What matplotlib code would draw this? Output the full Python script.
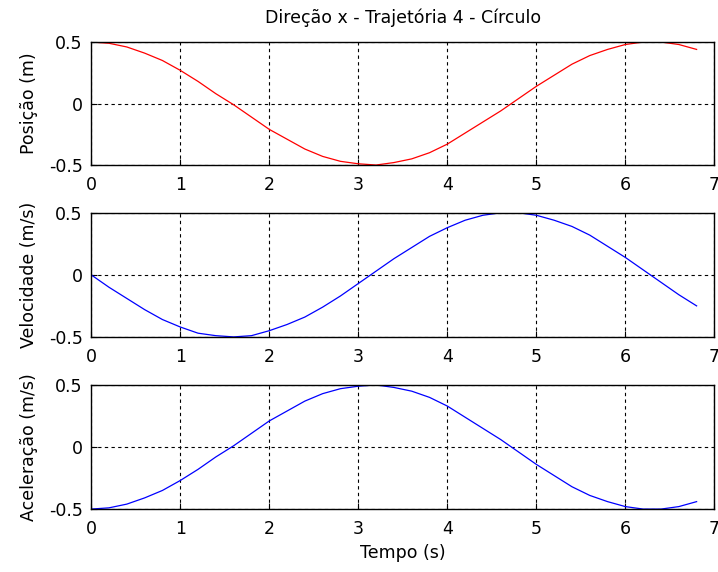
import matplotlib
matplotlib.use("Agg")
import matplotlib.pyplot as plt

plt.rcParams['font.family'] = ['DejaVu Sans']
plt.rcParams['font.size'] = 12.5

# amostras de tempo (s)
tempo = [0.0, 0.2, 0.4, 0.6, 0.8, 1.0, 1.2, 1.4, 1.6, 1.8, 2.0, 2.2, 2.4, 2.6,
         2.8, 3.0, 3.2, 3.4, 3.6, 3.8, 4.0, 4.2, 4.4, 4.6, 4.8, 5.0, 5.2, 5.4,
         5.6, 5.8, 6.0, 6.2, 6.4, 6.6, 6.8]

posicao = [0.50, 0.49, 0.46, 0.41, 0.35, 0.27, 0.18, 0.08, -0.01, -0.11, -0.21,
           -0.29, -0.37, -0.43, -0.47, -0.49, -0.50, -0.48, -0.45, -0.40, -0.33,
           -0.24, -0.15, -0.06, 0.04, 0.14, 0.23, 0.32, 0.39, 0.44, 0.48, 0.50,
           0.50, 0.48, 0.44]

velocidade = [0.00, -0.10, -0.19, -0.28, -0.36, -0.42, -0.47, -0.49, -0.50, -0.49,
              -0.45, -0.40, -0.34, -0.26, -0.17, -0.07, 0.03, 0.13, 0.22, 0.31,
              0.38, 0.44, 0.48, 0.50, 0.50, 0.48, 0.44, 0.39, 0.32, 0.23, 0.14,
              0.04, -0.06, -0.16, -0.25]

aceleracao = [-0.50, -0.49, -0.46, -0.41, -0.35, -0.27, -0.18, -0.08, 0.01, 0.11,
              0.21, 0.29, 0.37, 0.43, 0.47, 0.49, 0.50, 0.48, 0.45, 0.40, 0.33,
              0.24, 0.15, 0.06, -0.04, -0.14, -0.23, -0.32, -0.39, -0.44, -0.48,
              -0.50, -0.50, -0.48, -0.44]

x_ticks = [0, 1, 2, 3, 4, 5, 6, 7]
y_ticks = [-0.5, 0, 0.5]
y_tick_labels = ['-0.5', '0', '0.5']

fig = plt.figure(figsize=(7.18, 5.72), dpi=100, facecolor='white')

paineis = [
    ([0.127, 0.7115, 0.868, 0.215], posicao, 'r', 'Posição (m)'),
    ([0.127, 0.411, 0.868, 0.217], velocidade, 'b', 'Velocidade (m/s)'),
    ([0.127, 0.110, 0.868, 0.217], aceleracao, 'b', 'Aceleração (m/s)'),
]

axes = []
for rect, serie, cor, rotulo in paineis:
    ax = fig.add_axes(rect)
    ax.plot(tempo, serie, color=cor, linewidth=0.9)
    ax.set_xlim(0, 7)
    ax.set_ylim(-0.5, 0.5)
    ax.set_xticks(x_ticks)
    ax.set_yticks(y_ticks)
    ax.set_yticklabels(y_tick_labels)
    ax.set_ylabel(rotulo, labelpad=8)
    ax.grid(True, color='black', linestyle=(0, (3, 3)), linewidth=0.8)
    ax.tick_params(direction='in', length=4, width=0.8)
    ax.tick_params(axis='x', pad=8)
    ax.tick_params(axis='y', pad=6)
    for s in ax.spines.values():
        s.set_linewidth(1.0)
    axes.append(ax)

axes[0].set_title('Direção x - Trajetória 4 - Círculo', fontsize=12.5, pad=14)
axes[2].set_xlabel('Tempo (s)', labelpad=4)

fig.savefig('out.png', dpi=100, facecolor='white')
